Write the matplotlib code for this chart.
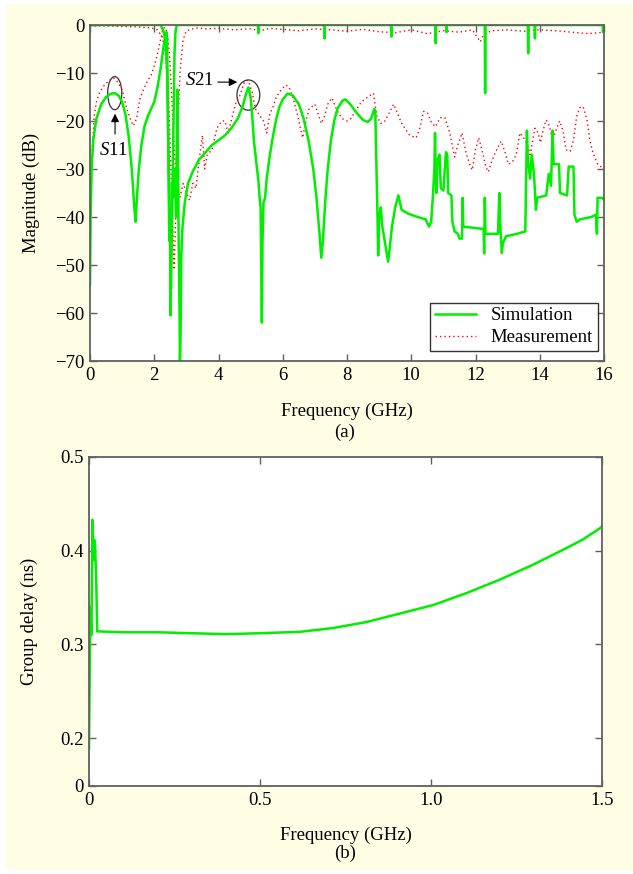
import numpy as np
import matplotlib
matplotlib.use("Agg")
import matplotlib.pyplot as plt
from matplotlib.patches import Ellipse, Rectangle

plt.rcParams['font.family'] = ['Liberation Serif', 'DejaVu Serif']
plt.rcParams['mathtext.fontset'] = 'custom'
plt.rcParams['mathtext.rm'] = 'Liberation Serif'
plt.rcParams['mathtext.it'] = 'Liberation Serif:italic'

FS = 13.5

# ---- (a) magnitude data ----
sim_s11_f = [0.00, 0.02, 0.05, 0.10, 0.20, 0.35, 0.50, 0.65, 0.78, 0.90, 1.00, 1.10, 1.20, 1.30, 1.38,
             1.42, 1.46, 1.52, 1.60, 1.70, 1.80, 1.90, 2.00, 2.10, 2.20, 2.28, 2.35, 2.38, 2.40, 2.43,
             2.45, 2.47, 2.49, 2.51, 2.53, 2.55, 2.58, 2.62, 2.66, 2.68, 2.70, 2.72, 2.74, 2.76, 2.78,
             2.80, 2.82, 2.84, 2.88, 2.95, 3.05, 3.20, 3.40, 3.60, 3.80, 4.00, 4.20, 4.40, 4.60, 4.75,
             4.85, 4.93, 5.00, 5.05, 5.10, 5.15, 5.20, 5.25, 5.28, 5.31, 5.33, 5.35, 5.37, 5.40, 5.45,
             5.50, 5.60, 5.70, 5.80, 5.90, 6.00, 6.15, 6.30, 6.50, 6.65, 6.80, 6.95, 7.05, 7.15, 7.20,
             7.25, 7.32, 7.40, 7.50, 7.60, 7.70, 7.85, 7.95, 8.10, 8.30, 8.50, 8.65, 8.75, 8.85, 8.88,
             8.92, 8.95, 8.97, 9.00, 9.05, 9.10, 9.20, 9.28, 9.32, 9.40, 9.50, 9.60, 9.70, 9.90, 10.20,
             10.45, 10.55, 10.62, 10.68, 10.72, 10.74, 10.76, 10.78, 10.82, 10.88, 10.92, 11.00, 11.08,
             11.12, 11.15, 11.25, 11.28, 11.35, 11.45, 11.50, 11.58, 11.60, 11.62, 12.25, 12.27, 12.29,
             12.31, 12.70, 12.74, 12.78, 12.82, 12.85, 12.95, 13.30, 13.55, 13.60, 13.63, 13.70, 13.75,
             13.82, 13.88, 13.92, 14.20, 14.28, 14.35, 14.40, 14.43, 14.60, 14.63, 14.85, 14.90, 15.05,
             15.08, 15.15, 15.25, 15.60, 15.75, 15.78, 15.80, 15.95, 16.00]
sim_s11_db = [-54, -40, -30, -24, -19.5, -16.5, -15, -14.3, -14.2, -14.8, -16, -18.5, -23, -30, -38,
              -41, -36, -30, -25, -21, -19, -17.5, -16, -13, -9, -5, -2, -1.5, -3, -20,
              -35, -45, -38, -60.5, -42, -33, -36, -30, -35, -40, -25, -13.5, -30, -45, -55,
              -70, -64, -48, -42, -37, -33, -30.5, -28, -26.5, -25, -24, -23, -21.5, -19.5, -17,
              -14.5, -13, -15, -19, -24, -27, -30, -33, -36, -38, -50, -62, -45, -37, -36,
              -32, -27, -23, -19.5, -17, -15.5, -14.3, -14.6, -16.5, -19.5, -24, -30, -36, -44, -48.5,
              -45, -37, -30, -24, -20, -17.5, -15.8, -15.5, -16.5, -18.3, -19.8, -20.2, -19.5, -17.5, -18,
              -30, -40, -48, -40, -38, -42, -46, -49.3, -47, -42, -38, -35.5, -38.5, -39.3, -40,
              -40.5, -42, -41, -35, -30, -22.5, -30, -35, -28, -27, -34, -34.5, -26.5,
              -27, -35, -35.5, -41, -43, -43.5, -44.5, -44.5, -36, -42, -42.5, -47.6, -36,
              -43.5, -43.5, -35, -43, -47.5, -45.5, -44, -43.5, -43, -22, -28, -32, -27,
              -31, -38.5, -36, -35.5, -31, -33.5, -22, -29, -29, -35, -35.5, -29.5, -29.5,
              -39.5, -41, -40.5, -40, -39.5, -43.5, -36, -36, -36.5]

# S21 simulation: flat 0 dB, a stop-band notch and narrow spikes
sim_s21_f = [0.00, 2.20, 2.30, 2.36, 2.40, 2.44, 2.48, 2.52, 2.56, 2.60, 2.63, 2.66, 2.70, 16.00]
sim_s21_db = [0, 0, -1.5, -4, -10, -25, -40, -55, -38, -20, -6, -1.5, 0, 0]
spike_f = [5.24, 7.30, 9.38, 10.76, 11.10, 12.30, 13.64, 13.85, 15.97]
spike_db = [-1.7, -2.8, -2.4, -3.8, -1.5, -14.2, -5.9, -2.8, -1.5]

meas_s11_f = [0.00, 0.04, 0.08, 0.13, 0.20, 0.30, 0.45, 0.60, 0.73, 0.85, 1.00, 1.15, 1.25, 1.35, 1.45,
              1.55, 1.66, 1.80, 1.90, 2.00, 2.10, 2.20, 2.27, 2.33, 2.40, 2.47, 2.53, 2.58, 2.63, 2.70,
              2.80, 2.90, 3.00, 3.10, 3.20, 3.30, 3.40, 3.50, 3.57, 3.65, 3.80, 3.95, 4.10, 4.20, 4.30,
              4.45, 4.55, 4.65, 4.80, 4.92, 5.05, 5.15, 5.30, 5.40, 5.50, 5.60, 5.70, 5.80, 5.95, 6.10,
              6.20, 6.33, 6.45, 6.55, 6.62, 6.72, 6.82, 7.00, 7.10, 7.20, 7.30, 7.40, 7.53, 7.68, 7.85,
              8.00, 8.12, 8.25, 8.45, 8.65, 8.82, 8.93, 9.05, 9.15, 9.30, 9.45, 9.58, 9.70, 9.85, 9.96,
              10.15, 10.27, 10.38, 10.50, 10.62, 10.75, 10.90, 11.05, 11.20, 11.35, 11.45, 11.58, 11.70,
              11.82, 11.90, 12.00, 12.10, 12.20, 12.32, 12.40, 12.50, 12.62, 12.80, 12.92, 13.02, 13.15,
              13.27, 13.38, 13.50, 13.62, 13.70, 13.85, 13.95, 14.02, 14.10, 14.20, 14.30, 14.40, 14.50,
              14.62, 14.72, 14.82, 14.95, 15.05, 15.15, 15.25, 15.35, 15.47, 15.56, 15.65, 15.80, 15.90,
              16.00]
meas_s11_db = [-42, -32, -25, -19, -16, -14, -12.5, -11.5, -11, -11.8, -13.5, -17.5, -19.5, -21, -19.5,
               -15.5, -13.5, -11.5, -10.5, -8.5, -6, -3, -0.8, -0.5, -1.5, -6, -13, -20, -27, -33,
               -36, -33, -35, -36.5, -33, -34, -28, -23, -30, -27, -26, -21.5, -20, -20, -22.5,
               -18.5, -16, -15, -12, -11.5, -14, -17.5, -19, -20, -22.5, -18.5, -17, -15, -13.5, -12.5,
               -13, -15.5, -18.5, -21.5, -23.5, -20, -17.5, -16.5, -18.5, -20.5, -19, -16.5, -15.2, -17.7, -19.5,
               -20, -19.5, -18, -16, -15, -14.2, -19, -20.5, -20.3, -18.5, -16.5, -18.5, -20.5, -22, -23,
               -23.5, -21.5, -18, -18.3, -20.2, -21.2, -19.3, -19.3, -22.5, -27.5, -25, -22.5, -26.5,
               -29, -30.2, -26, -23.5, -26, -29.5, -30.6, -28.5, -26.5, -24.2, -26.5, -29, -28.5,
               -27, -22.5, -23.5, -25, -27, -21.5, -22.5, -24.5, -22, -19.8, -21, -24, -22,
               -20, -22, -26, -26.3, -24, -19, -17.2, -17, -19.8, -24, -26.5, -29, -29.5,
               -30]

meas_s21_f = [0.0, 0.5, 1.0, 1.5, 1.9, 2.1, 2.25, 2.35, 2.45, 2.52, 2.58, 2.62, 2.66, 2.72, 2.80, 2.90,
              3.0, 3.3, 3.6, 4.0, 4.5, 5.0, 5.3, 5.6, 6.0, 6.5, 7.0, 7.5, 8.0, 8.5, 9.0, 9.5, 10.0,
              10.5, 11.0, 11.5, 11.9, 12.05, 12.15, 12.25, 12.5, 13.0, 13.5, 14.0, 14.5, 15.0, 15.5, 16.0]
meas_s21_db = [-0.2, -0.2, -0.3, -0.4, -0.6, -1, -2.5, -6, -16, -30, -43, -51, -42, -25, -10, -3,
               -1.2, -0.6, -0.8, -0.7, -1.0, -0.8, -1.2, -0.7, -0.9, -1.2, -0.8, -1.0, -1.3, -0.9, -1.4, -1.6, -1.0,
               -1.8, -1.2, -1.5, -1.0, -2.5, -3.5, -2.0, -1.2, -1.0, -1.3, -1.0, -1.2, -1.5, -1.8, -1.5]

# ---- (b) group delay data ----
gd_f = [0.000, 0.004, 0.007, 0.010, 0.014, 0.017, 0.021, 0.024, 0.10, 0.20, 0.30, 0.40, 0.50, 0.617,
        0.713, 0.812, 0.909, 1.006, 1.105, 1.20, 1.298, 1.397, 1.444, 1.494, 1.50]
gd_ns = [0.189, 0.340, 0.310, 0.433, 0.390, 0.411, 0.372, 0.314, 0.313, 0.313, 0.312, 0.311, 0.312, 0.3135,
         0.3175, 0.324, 0.333, 0.342, 0.355, 0.369, 0.385, 0.403, 0.412, 0.424, 0.426]

GREEN = '#00ee00'
SPINE = '#606060'


def style_axes(ax):
    for s in ax.spines.values():
        s.set_color(SPINE)
        s.set_linewidth(1.3)
    ax.tick_params(direction='in', top=True, right=True, length=5, width=1,
                   color=SPINE, labelsize=FS, pad=4)


fig = plt.figure(figsize=(6.33, 8.74), dpi=100)
fig.patches.append(Rectangle((6 / 633, 4 / 874), 627 / 633, 866 / 874, transform=fig.transFigure,
                             facecolor='#fffee4', edgecolor='none', zorder=-10))

# (a)
ax1 = fig.add_axes([90 / 633, 1 - 361 / 874, 514 / 633, 336 / 874])
# build S21 simulation trace with its spikes
f21 = list(sim_s21_f)
d21 = list(sim_s21_db)
for f, d in zip(spike_f, spike_db):
    f21 += [f - 0.012, f, f + 0.012]
    d21 += [0, d, 0]
order = np.argsort(f21, kind='stable')
f21 = np.array(f21)[order]
d21 = np.array(d21)[order]

ax1.plot(meas_s21_f, meas_s21_db, color='red', ls=(0, (1, 2.2)), lw=1.0)
ax1.plot(meas_s11_f, meas_s11_db, color='red', ls=(0, (1, 2.2)), lw=1.0, label='Measurement')
ax1.plot(f21, d21, color=GREEN, lw=1.8)
ax1.plot(sim_s11_f, sim_s11_db, color=GREEN, lw=1.8, label='Simulation')

ax1.set_xlim(0, 16)
ax1.set_ylim(-70, 0)
ax1.set_xticks(np.arange(0, 17, 2))
ax1.set_yticks(np.arange(-70, 1, 10))
style_axes(ax1)
ax1.set_xlabel('Frequency (GHz)', fontsize=FS)
ax1.set_ylabel('Magnitude (dB)', fontsize=FS)
ax1.xaxis.set_label_coords(0.5, -0.125)
ax1.yaxis.set_label_coords(-0.097, 0.5)

h, l = ax1.get_legend_handles_labels()
leg = ax1.legend(h[::-1], l[::-1], loc='lower right', bbox_to_anchor=(0.988, 0.03), borderaxespad=0,
                 fontsize=FS, frameon=True, fancybox=False, edgecolor='black', handlelength=2.2,
                 borderpad=0.25, labelspacing=0.25)
leg.get_frame().set_linewidth(1.0)

# annotations
ax1.add_patch(Ellipse((0.77, -14.2), 0.44, 6.9, fill=False, edgecolor='#333333', lw=0.9))
ax1.add_patch(Ellipse((4.93, -14.6), 0.71, 6.3, fill=False, edgecolor='#333333', lw=0.9))
ax1.annotate('', xy=(0.78, -17.9), xytext=(0.78, -23.3),
             arrowprops=dict(arrowstyle='-|>', color='black', lw=0.8, mutation_scale=12))
ax1.text(0.72, -26.2, r'$\mathit{S}$11', fontsize=FS, ha='center', va='center')
ax1.annotate('', xy=(4.67, -11.9), xytext=(3.89, -11.9),
             arrowprops=dict(arrowstyle='-|>', color='black', lw=0.8, mutation_scale=12))
ax1.text(3.4, -11.6, r'$\mathit{S}$21', fontsize=FS, ha='center', va='center')

fig.text(345 / 633, 1 - 432 / 874, '(a)', fontsize=FS, ha='center', va='center')

# (b)
ax2 = fig.add_axes([89 / 633, 1 - 786 / 874, 513 / 633, 329 / 874])
ax2.plot(gd_f, gd_ns, color=GREEN, lw=1.8)
gd_bottom = 0.149
ax2.set_xlim(0, 1.5)
ax2.set_ylim(gd_bottom, 0.5)
ax2.set_xticks([0, 0.5, 1.0, 1.5])
ax2.set_xticklabels(['0', '0.5', '1.0', '1.5'])
ax2.set_yticks([gd_bottom, 0.2, 0.3, 0.4, 0.5])
ax2.set_yticklabels(['0', '0.2', '0.3', '0.4', '0.5'])
style_axes(ax2)
ax2.set_xlabel('Frequency (GHz)', fontsize=FS)
ax2.set_ylabel('Group delay (ns)', fontsize=FS)
ax2.xaxis.set_label_coords(0.5, -0.125)
ax2.yaxis.set_label_coords(-0.099, 0.5)

fig.text(345 / 633, 1 - 853 / 874, '(b)', fontsize=FS, ha='center', va='center')

fig.savefig('out.png', dpi=100)
